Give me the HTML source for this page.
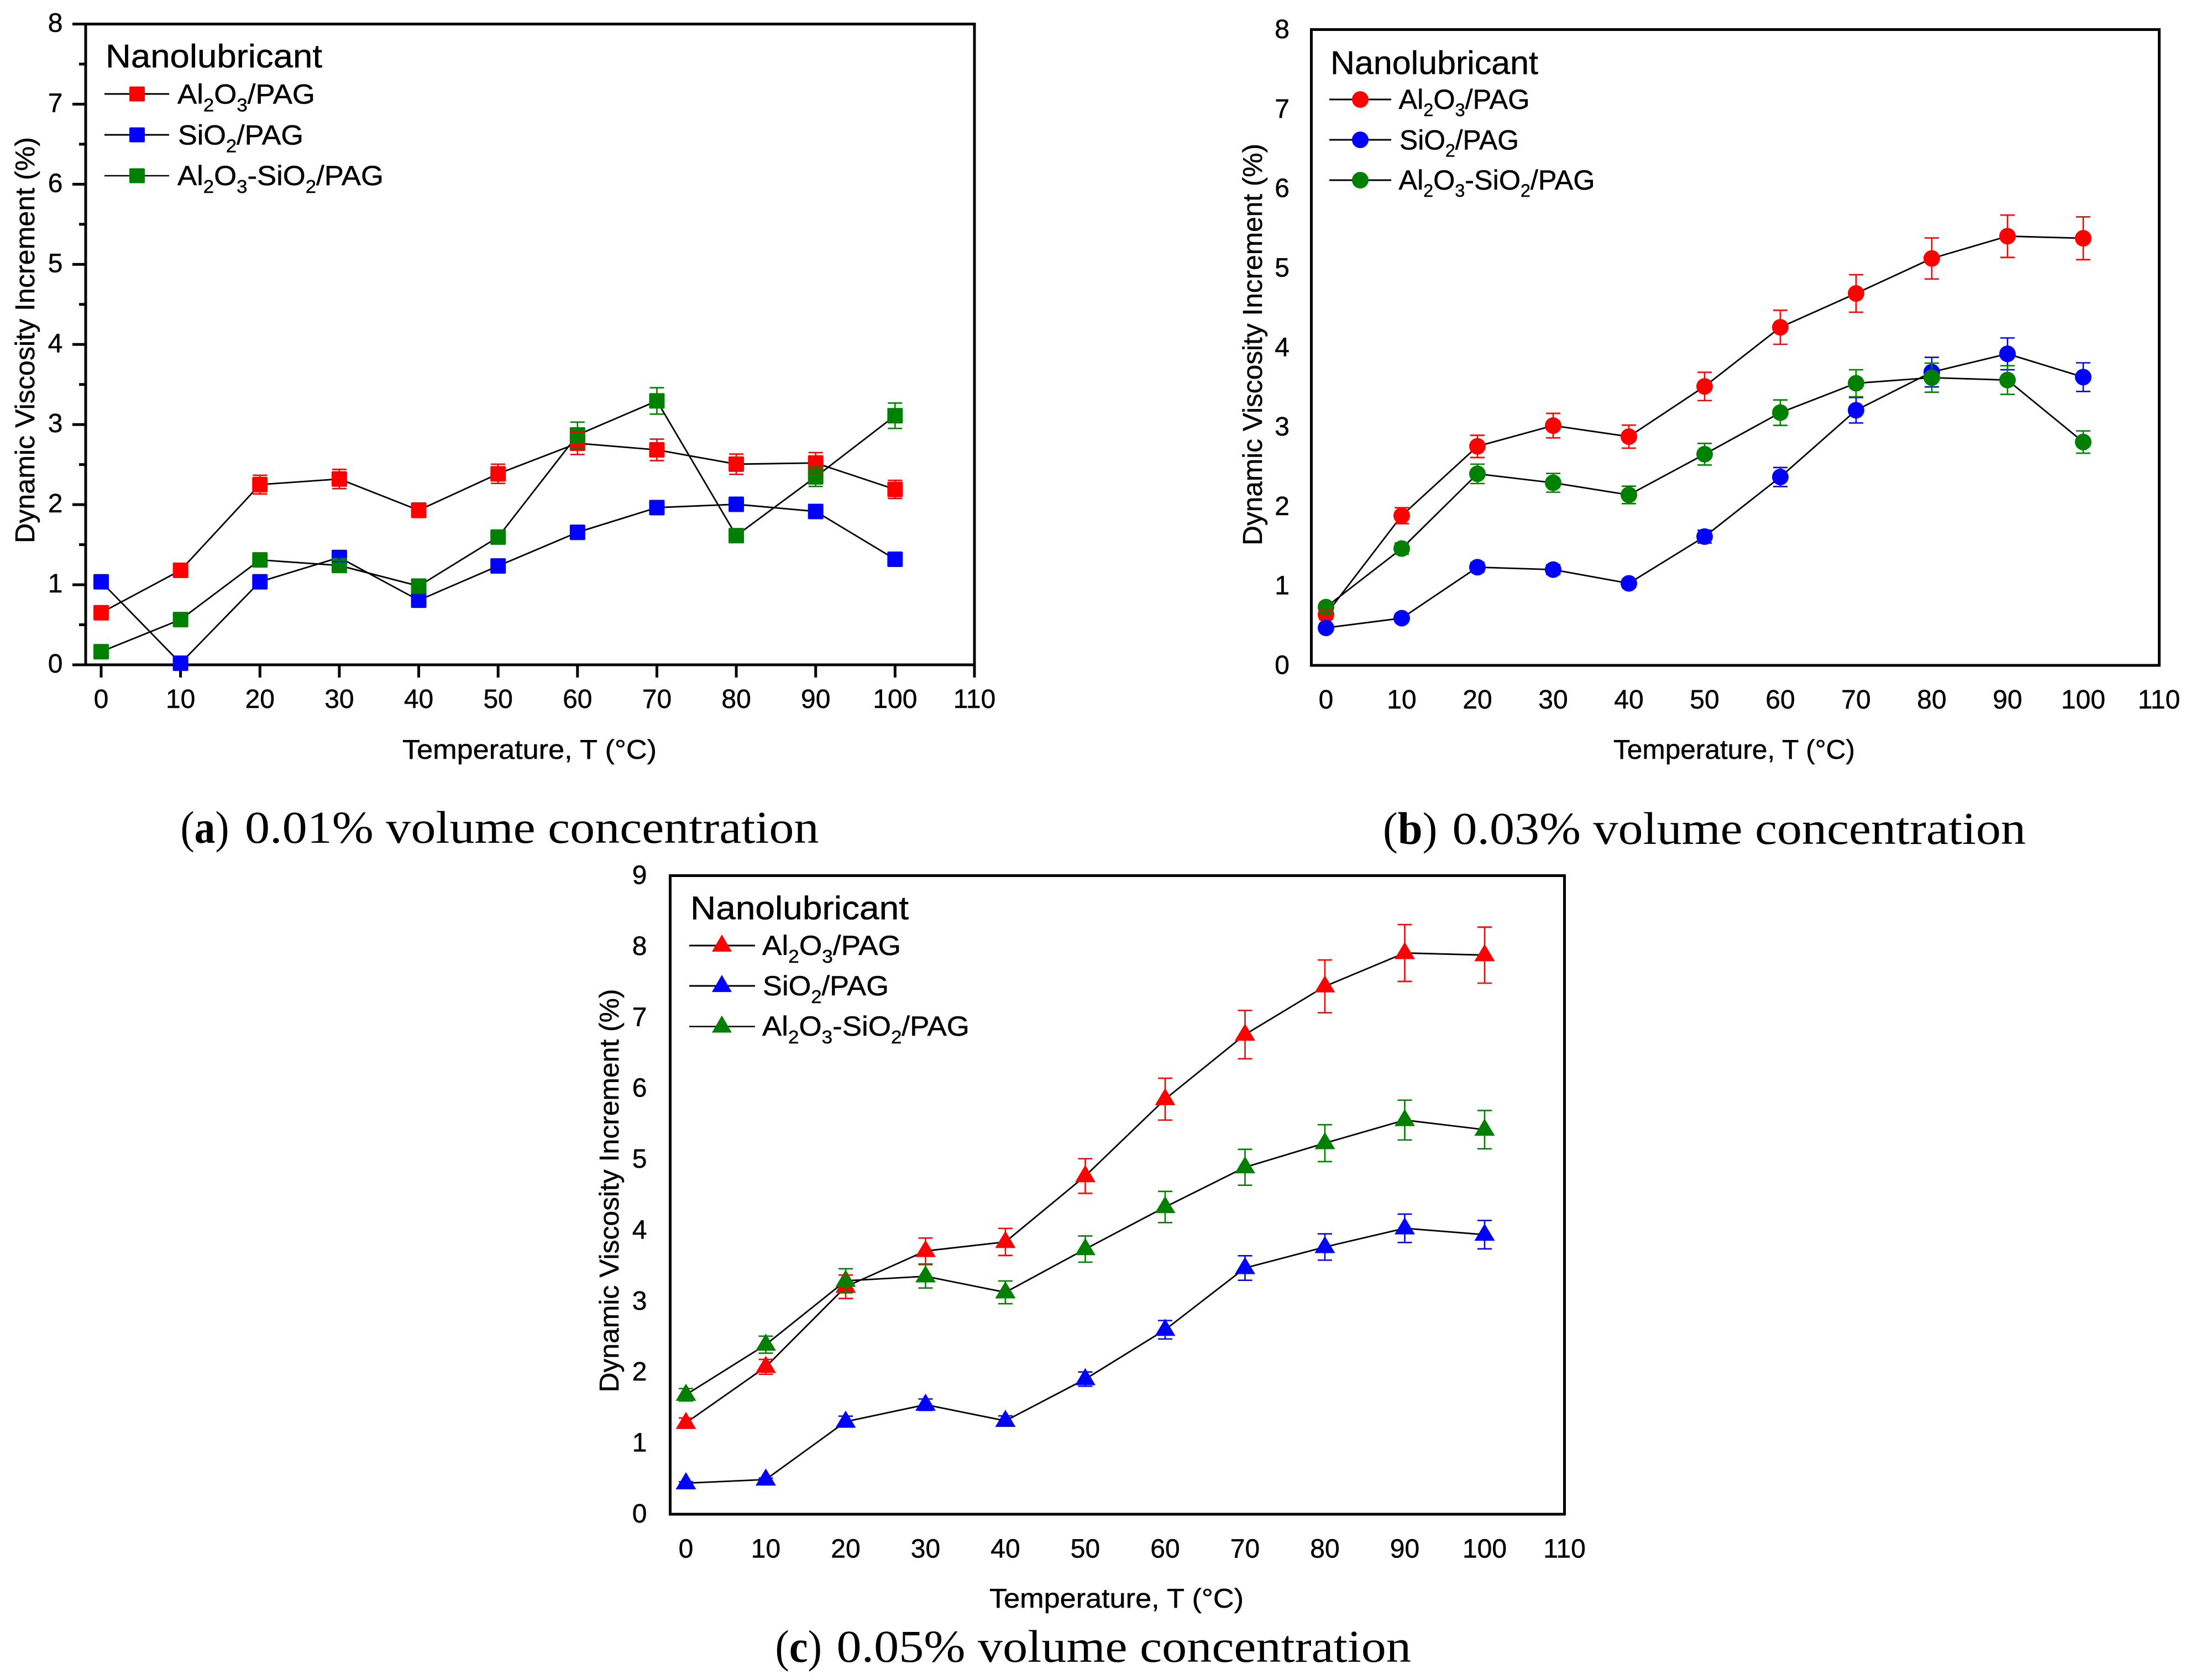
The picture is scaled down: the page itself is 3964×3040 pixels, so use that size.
<!DOCTYPE html>
<html lang="en">
<head>
<meta charset="utf-8">
<title>Dynamic viscosity increment of nanolubricants</title>
<style>
html,body{margin:0;padding:0;background:#fff;width:3964px;height:3040px;overflow:hidden}
svg{display:block}
text{font-family:"Liberation Sans",Arial,sans-serif;fill:#000;stroke:#000;stroke-width:.5px}
.cap{font-family:"Liberation Serif","Times New Roman",serif;font-size:83px;stroke-width:0}
.leg{font-size:50px}
.head{font-size:59px}
.axt{font-size:49px}
</style>
</head>
<body>
<svg id="figure" xmlns="http://www.w3.org/2000/svg" width="3964" height="3040" viewBox="0 0 3964 3040">
<rect x="0" y="0" width="3964" height="3040" fill="#fff"/>

<!-- Panel a -->
<g id="panel-a">
  <rect x="155" y="43.5" width="1608" height="1159.5" fill="none" stroke="#000" stroke-width="5"/>
  <text class="axt" transform="translate(62 983) rotate(-90)" font-size="50" textLength="735" lengthAdjust="spacingAndGlyphs">Dynamic Viscosity Increment (%)</text>
  <text class="axt" x="728" y="1373" textLength="460" lengthAdjust="spacingAndGlyphs">Temperature, T (°C)</text>
  <g>
    <text class="head" x="191" y="122" textLength="392" lengthAdjust="spacingAndGlyphs">Nanolubricant</text>
    <line x1="189" x2="306" y1="170" y2="170" stroke="#000" stroke-width="3"/>
    <rect x="234" y="156.5" width="28" height="27" rx="2" fill="#f00"/>
    <text class="leg" x="321" y="187.5" textLength="249" lengthAdjust="spacingAndGlyphs">Al<tspan dy="14" font-size="33">2</tspan><tspan dy="-14">O</tspan><tspan dy="14" font-size="33">3</tspan><tspan dy="-14">/PAG</tspan></text>
    <line x1="189" x2="306" y1="244" y2="244" stroke="#000" stroke-width="3"/>
    <rect x="234" y="230.5" width="28" height="27" rx="2" fill="#00f"/>
    <text class="leg" x="322" y="261.5" textLength="227" lengthAdjust="spacingAndGlyphs">SiO<tspan dy="14" font-size="33">2</tspan><tspan dy="-14">/PAG</tspan></text>
    <line x1="189" x2="306" y1="318" y2="318" stroke="#000" stroke-width="2.5"/>
    <rect x="234" y="304.5" width="28" height="27" rx="2" fill="#008000"/>
    <text class="leg" x="321" y="335" textLength="373" lengthAdjust="spacingAndGlyphs">Al<tspan dy="14" font-size="33">2</tspan><tspan dy="-14">O</tspan><tspan dy="14" font-size="33">3</tspan><tspan dy="-14">-SiO</tspan><tspan dy="14" font-size="33">2</tspan><tspan dy="-14">/PAG</tspan></text>
  </g>
  <text class="cap" x="326.5" y="1525" textLength="88" lengthAdjust="spacingAndGlyphs">(<tspan font-weight="bold">a</tspan>)</text>
  <text class="cap" x="443" y="1525" textLength="1038.5" lengthAdjust="spacingAndGlyphs">0.01% volume concentration</text>
</g>

<!-- Panel b -->
<g id="panel-b">
  <rect x="2372.5" y="53.5" width="1534" height="1150.5" fill="none" stroke="#000" stroke-width="5"/>
  <text class="axt" transform="translate(2283 987) rotate(-90)" font-size="49" textLength="727" lengthAdjust="spacingAndGlyphs">Dynamic Viscosity Increment (%)</text>
  <text class="axt" x="2919" y="1373" font-size="48" textLength="437" lengthAdjust="spacingAndGlyphs">Temperature, T (°C)</text>
  <g>
    <text class="head" x="2407" y="134" textLength="376" lengthAdjust="spacingAndGlyphs">Nanolubricant</text>
    <line x1="2405" x2="2517" y1="180" y2="180" stroke="#000" stroke-width="3"/>
    <circle cx="2461" cy="180" r="15" fill="#f00"/>
    <text class="leg" x="2530.5" y="197" textLength="237" lengthAdjust="spacingAndGlyphs">Al<tspan dy="13" font-size="32">2</tspan><tspan dy="-13">O</tspan><tspan dy="13" font-size="32">3</tspan><tspan dy="-13">/PAG</tspan></text>
    <line x1="2405" x2="2517" y1="253" y2="253" stroke="#000" stroke-width="3"/>
    <circle cx="2461" cy="253" r="15" fill="#00f"/>
    <text class="leg" x="2532" y="270.5" textLength="216" lengthAdjust="spacingAndGlyphs">SiO<tspan dy="13" font-size="32">2</tspan><tspan dy="-13">/PAG</tspan></text>
    <line x1="2405" x2="2517" y1="326" y2="326" stroke="#000" stroke-width="3"/>
    <circle cx="2461" cy="326" r="15" fill="#008000"/>
    <text class="leg" x="2530.5" y="343" textLength="355" lengthAdjust="spacingAndGlyphs">Al<tspan dy="13" font-size="32">2</tspan><tspan dy="-13">O</tspan><tspan dy="13" font-size="32">3</tspan><tspan dy="-13">-SiO</tspan><tspan dy="13" font-size="32">2</tspan><tspan dy="-13">/PAG</tspan></text>
  </g>
  <text class="cap" x="2502" y="1527" textLength="98.5" lengthAdjust="spacingAndGlyphs">(<tspan font-weight="bold">b</tspan>)</text>
  <text class="cap" x="2627.5" y="1527" textLength="1037.5" lengthAdjust="spacingAndGlyphs">0.03% volume concentration</text>
</g>

<!-- Panel c -->
<g id="panel-c">
  <rect x="1212.5" y="1584.5" width="1618" height="1155.5" fill="none" stroke="#000" stroke-width="5"/>
  <text class="axt" transform="translate(1119 2519.5) rotate(-90)" font-size="50" textLength="730" lengthAdjust="spacingAndGlyphs">Dynamic Viscosity Increment (%)</text>
  <text class="axt" x="1790" y="2909" textLength="460" lengthAdjust="spacingAndGlyphs">Temperature, T (°C)</text>
  <g>
    <text class="head" x="1249" y="1663.5" textLength="395" lengthAdjust="spacingAndGlyphs">Nanolubricant</text>
    <line x1="1247" x2="1366" y1="1711" y2="1711" stroke="#000" stroke-width="3"/>
    <polygon points="1306,1691 1324,1722 1288,1722" fill="#f00"/>
    <text class="leg" x="1379" y="1728" textLength="251" lengthAdjust="spacingAndGlyphs">Al<tspan dy="14" font-size="33">2</tspan><tspan dy="-14">O</tspan><tspan dy="14" font-size="33">3</tspan><tspan dy="-14">/PAG</tspan></text>
    <line x1="1247" x2="1366" y1="1784" y2="1784" stroke="#000" stroke-width="3"/>
    <polygon points="1306,1764 1324,1795 1288,1795" fill="#00f"/>
    <text class="leg" x="1380" y="1801" textLength="228" lengthAdjust="spacingAndGlyphs">SiO<tspan dy="14" font-size="33">2</tspan><tspan dy="-14">/PAG</tspan></text>
    <line x1="1247" x2="1366" y1="1857.5" y2="1857.5" stroke="#000" stroke-width="2.5"/>
    <polygon points="1306,1837.5 1324,1868.5 1288,1868.5" fill="#008000"/>
    <text class="leg" x="1379" y="1874" textLength="375" lengthAdjust="spacingAndGlyphs">Al<tspan dy="14" font-size="33">2</tspan><tspan dy="-14">O</tspan><tspan dy="14" font-size="33">3</tspan><tspan dy="-14">-SiO</tspan><tspan dy="14" font-size="33">2</tspan><tspan dy="-14">/PAG</tspan></text>
  </g>
  <text class="cap" x="1402.5" y="3007" textLength="84.5" lengthAdjust="spacingAndGlyphs">(<tspan font-weight="bold">c</tspan>)</text>
  <text class="cap" x="1513.5" y="3007" textLength="1039.5" lengthAdjust="spacingAndGlyphs">0.05% volume concentration</text>
</g>
</svg>

<script>
// ---- Data ----
const temperatures = [0, 10, 20, 30, 40, 50, 60, 70, 80, 90, 100];
const xTickLabels = ['0', '10', '20', '30', '40', '50', '60', '70', '80', '90', '100', '110'];
const yTickLabelsAB = ['0', '1', '2', '3', '4', '5', '6', '7', '8'];
const yTickLabelsC = ['0', '1', '2', '3', '4', '5', '6', '7', '8', '9'];

const panelA_Al2O3 = [0.65, 1.18, 2.25, 2.32, 1.93, 2.385, 2.766, 2.684, 2.505, 2.52, 2.19];
const panelA_Al2O3_err = [0.05, 0.06, 0.117, 0.12, 0.09, 0.12, 0.14, 0.134, 0.127, 0.13, 0.113];
const panelA_SiO2 = [1.037, 0.02, 1.037, 1.34, 0.806, 1.234, 1.654, 1.963, 2.004, 1.915, 1.318];
const panelA_SiO2_err = [0.03, 0.02, 0.04, 0.05, 0.03, 0.04, 0.05, 0.06, 0.06, 0.06, 0.04];
const panelA_Hybrid = [0.164, 0.565, 1.31, 1.24, 0.983, 1.595, 2.87, 3.295, 1.613, 2.347, 3.11];
const panelA_Hybrid_err = [0.05, 0.05, 0.07, 0.06, 0.05, 0.08, 0.16, 0.165, 0.06, 0.12, 0.158];

const panelB_Al2O3 = [0.64, 1.884, 2.756, 3.017, 2.878, 3.51, 4.254, 4.68, 5.12, 5.40, 5.374];
const panelB_Al2O3_err = [0.06, 0.1, 0.14, 0.154, 0.145, 0.178, 0.214, 0.236, 0.258, 0.266, 0.269];
const panelB_SiO2 = [0.472, 0.594, 1.235, 1.205, 1.032, 1.62, 2.37, 3.21, 3.69, 3.92, 3.627];
const panelB_SiO2_err = [0.03, 0.03, 0.06, 0.06, 0.05, 0.08, 0.12, 0.16, 0.186, 0.2, 0.18];
const panelB_Hybrid = [0.733, 1.47, 2.41, 2.297, 2.145, 2.657, 3.18, 3.55, 3.62, 3.59, 2.81];
const panelB_Hybrid_err = [0.05, 0.07, 0.122, 0.118, 0.11, 0.136, 0.16, 0.17, 0.183, 0.18, 0.14];

const panelC_Al2O3 = [1.287, 2.077, 3.206, 3.71, 3.838, 4.767, 5.85, 6.76, 7.44, 7.91, 7.88];
const panelC_Al2O3_err = [0.07, 0.105, 0.165, 0.183, 0.19, 0.244, 0.295, 0.34, 0.372, 0.4, 0.395];
const panelC_SiO2 = [0.4375, 0.489, 1.305, 1.544, 1.316, 1.904, 2.60, 3.47, 3.766, 4.03, 3.94];
const panelC_SiO2_err = [0.02, 0.02, 0.077, 0.08, 0.07, 0.1, 0.13, 0.173, 0.185, 0.2, 0.2];
const panelC_Hybrid = [1.684, 2.39, 3.29, 3.353, 3.127, 3.737, 4.33, 4.89, 5.23, 5.555, 5.42];
const panelC_Hybrid_err = [0.088, 0.12, 0.17, 0.165, 0.16, 0.185, 0.22, 0.253, 0.26, 0.28, 0.27];

// ---- Helpers ----
const SVG_NS = 'http://www.w3.org/2000/svg';
function make(tag, parent, attrs) {
  const el = document.createElementNS(SVG_NS, tag);
  for (const key in attrs) el.setAttribute(key, attrs[key]);
  parent.appendChild(el);
  return el;
}
function xScale(layout, t) {
  return layout.xZero + t * (layout.xMax - layout.xZero) / 110;
}
function yScale(layout, v) {
  return layout.yZero - v * (layout.yZero - layout.yTop) / layout.yDomainMax;
}
function drawMarker(layer, kind, cx, cy, color) {
  let el;
  if (kind === 'square') {
    el = make('rect', layer, { x: cx - 14, y: cy - 14, width: 28, height: 28, rx: 2, fill: color });
  } else if (kind === 'circle') {
    el = make('circle', layer, { cx: cx, cy: cy, r: 15, fill: color });
  } else {
    el = make('polygon', layer, {
      points: cx + ',' + (cy - 20) + ' ' + (cx + 18.5) + ',' + (cy + 11) + ' ' + (cx - 18.5) + ',' + (cy + 11),
      fill: color
    });
  }
  return el;
}

function drawPanel(layout, seriesList) {
  const root = document.getElementById(layout.id);
  const axisLayer = make('g', root, {});
  
  

  // x tick labels and ticks
  xTickLabels.forEach(function (label) {
    const t = Number(label);
    const px = xScale(layout, t);
    const txt = make('text', axisLayer, { x: px, y: layout.xLabelY, 'text-anchor': 'middle', 'font-size': 48 });
    txt.textContent = label;
    
    
    if (layout.ticks) {
      const tick = make('line', axisLayer, { x1: px, x2: px, y1: layout.yZero, y2: layout.yZero + 23, stroke: '#000', 'stroke-width': 5 });
      
      
    }
  });

  // y tick labels and ticks
  layout.yLabels.forEach(function (label) {
    const v = Number(label);
    const py = yScale(layout, v);
    const txt = make('text', axisLayer, { x: layout.yLabelX, y: py + layout.yLabelDy, 'text-anchor': 'end', 'font-size': 48 });
    txt.textContent = label;
    
    
    if (layout.ticks) {
      const tick = make('line', axisLayer, { x1: layout.xLeft - 24, x2: layout.xLeft, y1: py, y2: py, stroke: '#000', 'stroke-width': 5 });
      
      
      if (v < layout.yDomainMax) {
        const pyMinor = yScale(layout, v + 0.5);
        const minor = make('line', axisLayer, { x1: layout.xLeft - 12, x2: layout.xLeft, y1: pyMinor, y2: pyMinor, stroke: '#000', 'stroke-width': 5 });
        
        
      }
    }
  });

  const lineLayer = make('g', root, {});
  
  
  const markerLayer = make('g', root, {});
  
  
  const errorLayer = make('g', root, {});
  
  

  seriesList.forEach(function (series) {
    const pts = temperatures.map(function (t, i) {
      return xScale(layout, t) + ',' + yScale(layout, series.values[i]);
    }).join(' ');
    const poly = make('polyline', lineLayer, { points: pts, fill: 'none', stroke: '#000', 'stroke-width': 2.8, 'stroke-linejoin': 'round' });
    
    

    temperatures.forEach(function (t, i) {
      const px = xScale(layout, t);
      const py = yScale(layout, series.values[i]);
      const marker = drawMarker(markerLayer, layout.marker, px, py, series.color);
      
      

      const hi = yScale(layout, series.values[i] + series.errors[i]);
      const lo = yScale(layout, series.values[i] - series.errors[i]);
      const capHalf = 13;
      const bar = make('path', errorLayer, {
        d: 'M' + (px - capHalf) + ' ' + hi + 'H' + (px + capHalf) + 'M' + px + ' ' + hi + 'V' + lo + 'M' + (px - capHalf) + ' ' + lo + 'H' + (px + capHalf),
        fill: 'none', stroke: series.color, 'stroke-width': 2.6
      });
      
      
    });
  });
}

drawPanel(
  { id: 'panel-a', xZero: 183, xMax: 1763, xLeft: 155, yZero: 1203, yTop: 43.5, yDomainMax: 8,
    xLabelY: 1281, yLabelX: 113.5, yLabelDy: 14, yLabels: yTickLabelsAB, ticks: true, marker: 'square' },
  [
    { name: 'al2o3', color: '#ff0000', values: panelA_Al2O3, errors: panelA_Al2O3_err },
    { name: 'sio2', color: '#0000ff', values: panelA_SiO2, errors: panelA_SiO2_err },
    { name: 'hybrid', color: '#008000', values: panelA_Hybrid, errors: panelA_Hybrid_err }
  ]
);
drawPanel(
  { id: 'panel-b', xZero: 2399, xMax: 3906, xLeft: 2372.5, yZero: 1204, yTop: 53.5, yDomainMax: 8,
    xLabelY: 1282, yLabelX: 2333, yLabelDy: 15.5, yLabels: yTickLabelsAB, ticks: false, marker: 'circle' },
  [
    { name: 'al2o3', color: '#ff0000', values: panelB_Al2O3, errors: panelB_Al2O3_err },
    { name: 'sio2', color: '#0000ff', values: panelB_SiO2, errors: panelB_SiO2_err },
    { name: 'hybrid', color: '#008000', values: panelB_Hybrid, errors: panelB_Hybrid_err }
  ]
);
drawPanel(
  { id: 'panel-c', xZero: 1241, xMax: 2830.5, xLeft: 1212.5, yZero: 2740, yTop: 1584.5, yDomainMax: 9,
    xLabelY: 2818.5, yLabelX: 1170.5, yLabelDy: 15, yLabels: yTickLabelsC, ticks: false, marker: 'triangle' },
  [
    { name: 'al2o3', color: '#ff0000', values: panelC_Al2O3, errors: panelC_Al2O3_err },
    { name: 'sio2', color: '#0000ff', values: panelC_SiO2, errors: panelC_SiO2_err },
    { name: 'hybrid', color: '#008000', values: panelC_Hybrid, errors: panelC_Hybrid_err }
  ]
);
</script>
</body>
</html>
